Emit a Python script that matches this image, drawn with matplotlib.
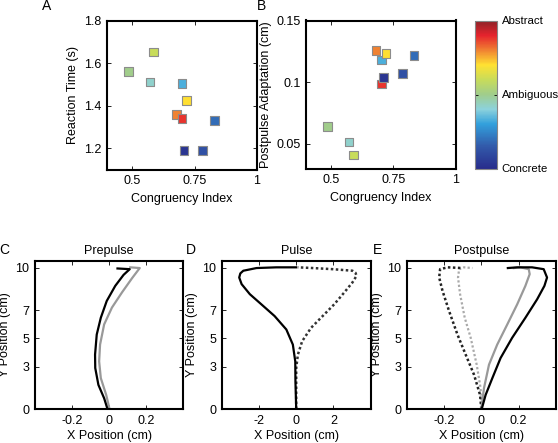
import matplotlib
matplotlib.use("Agg")
import matplotlib.pyplot as plt
import numpy as np
from matplotlib.colors import LinearSegmentedColormap, Normalize
from matplotlib.colorbar import ColorbarBase

plt.rcParams['font.family'] = ['Liberation Sans', 'DejaVu Sans']
plt.rcParams['font.size'] = 9

# ---------------- data ----------------
# scatter: congruency index, reaction time, postpulse adaptation, abstractness (0=concrete, 1=abstract)
congruency_rt = [0.587, 0.487, 0.572, 0.700, 0.719, 0.677, 0.700, 0.829, 0.708, 0.783]
reaction_time = [1.653, 1.561, 1.511, 1.504, 1.425, 1.359, 1.340, 1.329, 1.188, 1.188]
congruency_pp = [0.590, 0.487, 0.572, 0.702, 0.721, 0.681, 0.702, 0.833, 0.712, 0.787]
postpulse_adapt = [0.041, 0.064, 0.0516, 0.118, 0.1234, 0.1258, 0.0984, 0.1218, 0.1038, 0.107]
abstractness = [0.60, 0.50, 0.42, 0.33, 0.70, 0.80, 0.88, 0.19, 0.03, 0.12]

cbar_ticks = [0.0, 0.5, 1.0]
cbar_labels = ['Concrete', 'Ambiguous', 'Abstract']

# trajectories (x in cm, y in cm)
pre_black_x = [-0.009, -0.027, -0.058, -0.075, -0.076, -0.067, -0.045, -0.013, 0.033, 0.078, 0.111, 0.045]
pre_black_y = [0.0, 0.76, 1.71, 2.9, 3.85, 5.27, 6.46, 7.65, 8.72, 9.5, 9.9, 9.95]
pre_gray_x = [0.002, -0.016, -0.045, -0.054, -0.049, -0.027, 0.015, 0.069, 0.124, 0.165, 0.114]
pre_gray_y = [0.0, 1.0, 2.19, 3.37, 4.56, 5.99, 7.18, 8.25, 9.27, 9.98, 10.03]

pulse_solid_x = [0.0, -0.04, -0.05, -0.18, -0.53, -1.16, -1.87, -2.49, -2.93, -3.06, -3.0, -2.84, -2.13, -1.07, 0.0]
pulse_solid_y = [0.0, 1.95, 3.37, 4.56, 5.63, 6.58, 7.41, 8.13, 8.84, 9.31, 9.6, 9.79, 9.98, 10.03, 10.03]
pulse_dot_x = [0.0, 0.0, 0.09, 0.32, 0.8, 1.42, 2.04, 2.58, 3.02, 3.24, 3.18, 3.02, 1.96, 0.89, 0.09]
pulse_dot_y = [0.0, 2.9, 3.85, 4.8, 5.75, 6.58, 7.41, 8.25, 8.96, 9.43, 9.65, 9.79, 9.9, 9.98, 10.03]

post_black_x = [0.002, 0.023, 0.059, 0.103, 0.165, 0.236, 0.299, 0.338, 0.352, 0.334, 0.272, 0.192, 0.142]
post_black_y = [0.0, 1.0, 2.19, 3.61, 5.04, 6.46, 7.77, 8.72, 9.31, 9.9, 10.03, 10.03, 9.98]
post_gray_x = [0.0, 0.014, 0.041, 0.085, 0.139, 0.192, 0.236, 0.259, 0.254, 0.21, 0.174]
post_gray_y = [0.0, 1.47, 3.14, 4.56, 5.99, 7.41, 8.72, 9.55, 9.9, 10.03, 9.98]
post_bdot_x = [0.0, -0.007, -0.039, -0.084, -0.128, -0.173, -0.208, -0.226, -0.221, -0.181, -0.101]
post_bdot_y = [0.0, 1.0, 2.42, 3.85, 5.27, 6.94, 8.36, 9.31, 9.9, 10.03, 9.98]
post_gdot_x = [0.0, -0.004, -0.025, -0.057, -0.089, -0.114, -0.125, -0.119, -0.093, -0.048]
post_gdot_y = [0.0, 1.47, 3.14, 5.04, 6.46, 8.13, 9.31, 9.9, 10.03, 9.98]

# ---------------- style ----------------
cmap = LinearSegmentedColormap.from_list('abstractness', [
    (0.00, '#282D8C'), (0.15, '#325AAA'), (0.30, '#32A0DC'), (0.40, '#8CD2DC'),
    (0.50, '#A0CD8C'), (0.60, '#C8DC5A'), (0.70, '#FFE132'), (0.80, '#F08232'),
    (0.90, '#E6232D'), (1.00, '#8C2328')])
norm = Normalize(0, 1)

W, H = 558, 443
fig = plt.figure(figsize=(W / 100, H / 100), dpi=100)


def ax_px(l, r, t, b):
    return fig.add_axes([l / W, 1 - b / H, (r - l) / W, (b - t) / H])


def style(ax):
    for s in ax.spines.values():
        s.set_linewidth(1.5)
    ax.tick_params(direction='in', top=True, right=True, length=3, width=0.6,
                   labelsize=9, pad=4)


# ---- A ----
axA = ax_px(107, 257, 20.5, 169.5)
axA.scatter(congruency_rt, reaction_time, c=[cmap(norm(v)) for v in abstractness],
            marker='s', s=38, edgecolors='#8c8c8c', linewidths=0.8, zorder=3)
axA.set_xlim(0.4, 1.0)
axA.set_ylim(1.1, 1.8)
axA.set_xticks([0.5, 0.75, 1.0])
axA.set_xticklabels(['0.5', '0.75', '1'])
axA.set_yticks([1.2, 1.4, 1.6, 1.8])
axA.set_xlabel('Congruency Index', labelpad=4)
axA.set_ylabel('Reaction Time (s)', labelpad=4)
style(axA)

# ---- B ----
axB = ax_px(306, 455.5, 20.5, 168.5)
axB.scatter(congruency_pp, postpulse_adapt, c=[cmap(norm(v)) for v in abstractness],
            marker='s', s=38, edgecolors='#8c8c8c', linewidths=0.8, zorder=3)
axB.set_xlim(0.4, 1.0)
axB.set_ylim(0.03, 0.15)
axB.set_xticks([0.5, 0.75, 1.0])
axB.set_xticklabels(['0.5', '0.75', '1'])
axB.set_yticks([0.05, 0.1, 0.15])
axB.set_yticklabels(['0.05', '0.1', '0.15'])
axB.set_xlabel('Congruency Index', labelpad=4)
axB.set_ylabel('Postpulse Adaptation (cm)', labelpad=3)
style(axB)

# ---- colorbar ----
cax = ax_px(475, 497.5, 20.5, 168.5)
cb = ColorbarBase(cax, cmap=cmap, norm=norm, orientation='vertical')
cb.set_ticks(cbar_ticks)
cb.set_ticklabels(cbar_labels)
cb.outline.set_edgecolor('#888888')
cb.outline.set_linewidth(0.8)
cax.tick_params(direction='in', length=2.5, width=0.6, labelsize=8.2, pad=3,
                left=True, right=True)

# ---- C ----
lw = 1.6
axC = ax_px(35, 183.3, 260.7, 409)
axC.plot(pre_gray_x, pre_gray_y, color='#999999', lw=lw, solid_joinstyle='round')
axC.plot(pre_black_x, pre_black_y, color='black', lw=lw, solid_joinstyle='round')
axC.set_xlim(-0.4, 0.4)
axC.set_xticks([-0.2, 0, 0.2])
axC.set_xticklabels(['-0.2', '0', '0.2'])
axC.set_title('Prepulse', fontsize=9, pad=5)

# ---- D ----
axD = ax_px(221.7, 370.7, 260.7, 409)
axD.plot(pulse_dot_x, pulse_dot_y, color='#333333', lw=1.8, linestyle=(0, (1, 1)))
axD.plot(pulse_solid_x, pulse_solid_y, color='black', lw=lw, solid_joinstyle='round')
axD.set_xlim(-4, 4)
axD.set_xticks([-2, 0, 2])
axD.set_xticklabels(['-2', '0', '2'])
axD.set_title('Pulse', fontsize=9, pad=5)

# ---- E ----
axE = ax_px(406.7, 556, 260.7, 409)
axE.plot(post_gdot_x, post_gdot_y, color='#aaaaaa', lw=1.6, linestyle=(0, (1, 1)))
axE.plot(post_bdot_x, post_bdot_y, color='#222222', lw=1.8, linestyle=(0, (1, 1)))
axE.plot(post_gray_x, post_gray_y, color='#999999', lw=lw, solid_joinstyle='round')
axE.plot(post_black_x, post_black_y, color='black', lw=lw, solid_joinstyle='round')
axE.set_xlim(-0.4, 0.4)
axE.set_xticks([-0.2, 0, 0.2])
axE.set_xticklabels(['-0.2', '0', '0.2'])
axE.set_title('Postpulse', fontsize=9, pad=5)

for ax in (axC, axD, axE):
    ax.set_ylim(0, 10.5)
    ax.set_yticks([0, 3, 5, 7, 10])
    ax.set_xlabel('X Position (cm)', labelpad=2.5)
    ax.set_ylabel('Y Position (cm)', labelpad=3)
    style(ax)

# panel letters
for lab, x, y in [('A', 47, 6), ('B', 262, 6), ('C', 4, 250), ('D', 191, 250), ('E', 377, 250)]:
    fig.text(x / W, 1 - y / H, lab, fontsize=10, ha='center', va='center')

fig.savefig('out.png', dpi=100)
